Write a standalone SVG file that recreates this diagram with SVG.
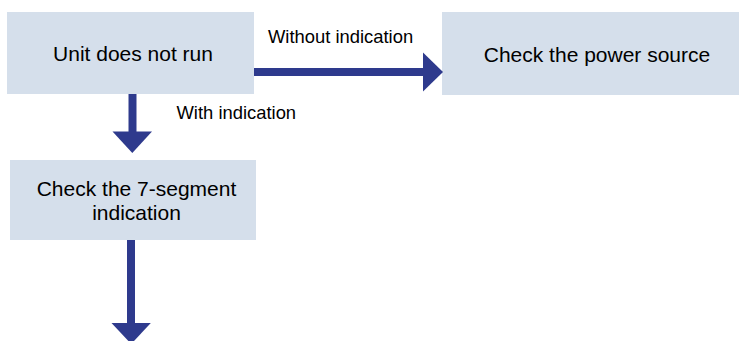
<svg xmlns="http://www.w3.org/2000/svg" width="739" height="341" viewBox="0 0 739 341">
<style>
.box{fill:#D5DFEB}
.t{font-family:"Liberation Sans",Arial,sans-serif;font-size:21px;fill:#000;text-anchor:middle}
.l{font-family:"Liberation Sans",Arial,sans-serif;font-size:18.4px;fill:#000}
.ln{stroke:#2E3A8D;stroke-width:8;fill:none}
.hd{fill:#2E3A8D}
</style>
<rect width="739" height="341" fill="#fff"/>
<g id="n1"><rect class="box" x="7" y="12" width="247" height="82"/><text class="t" x="133" y="61">Unit does not run</text></g>
<g id="n2"><rect class="box" x="442" y="12" width="310" height="83"/><text class="t" x="597" y="62">Check the power source</text></g>
<g id="n3"><rect class="box" x="10" y="160" width="246" height="80"/><text class="t" x="136.5" y="196">Check the 7-segment</text><text class="t" x="136.5" y="219.5">indication</text></g>
<g id="connectors">
<line class="ln" x1="254" y1="72" x2="424" y2="72"/><polygon class="hd" points="423,52.5 443,72 423,91.5"/>
<line class="ln" x1="132.5" y1="94" x2="132.5" y2="133"/><polygon class="hd" points="112.5,131.5 152,131.5 132.3,153"/>
<line class="ln" x1="131" y1="240" x2="131" y2="325"/><polygon class="hd" points="111.5,323 150.8,323 131.2,344"/>
<text class="l" x="268" y="42.7">Without indication</text>
<text class="l" x="176.5" y="119.3">With indication</text>
</g>
</svg>
